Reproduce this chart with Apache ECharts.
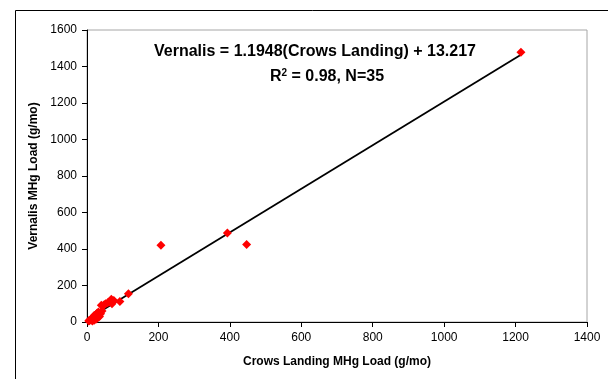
<!DOCTYPE html>
<html>
<head>
<meta charset="utf-8">
<script src="https://cdn.jsdelivr.net/npm/echarts@6/dist/echarts.min.js"></script>
<style>
  html, body { margin: 0; padding: 0; background: #fff; }
  #chart { width: 608px; height: 379px; }
</style>
</head>
<body>
<div id="chart"></div>
<script>
// Monthly methylmercury loads (g/mo): Crows Landing (x) vs Vernalis (y)
const crowsLanding = [1215, 447, 393, 207, 116, 92,
  75, 68, 62, 58, 52, 48, 45, 40, 70, 42,
  32, 28, 25, 22, 20, 18, 15, 12, 10, 8, 6, 5, 30, 35, 28, 20, 15, 38, 25];
const vernalis = [1478, 425, 487, 420, 155, 113,
  118, 125, 110, 105, 100, 95, 88, 92, 100, 60,
  55, 48, 40, 30, 35, 25, 20, 15, 12, 10, 8, 5, 25, 30, 20, 10, 5, 45, 15];

// Linear fit reported for the data set
const slope = 1.1948;
const intercept = 13.217;
const xTicks = { min: 0, max: 1400, interval: 200 };
const yTicks = { min: 0, max: 1600, interval: 200 };

const points = crowsLanding.map((x, i) => [x, vernalis[i]]);
const xMin = Math.min(...crowsLanding);
const xMax = Math.max(...crowsLanding);
const fitLine = [[xMin, slope * xMin + intercept], [xMax, slope * xMax + intercept]];

const font = 'Liberation Sans, Arial, sans-serif';
const plain = v => String(v);
const chart = echarts.init(document.getElementById('chart'), null, { renderer: 'canvas' });

chart.setOption({
  animation: false,
  backgroundColor: '#fff',
  grid: { left: 87, right: 21, top: 30, bottom: 57, show: true, borderColor: '#a6a6a6', borderWidth: 1 },
  xAxis: {
    type: 'value', min: xTicks.min, max: xTicks.max, interval: xTicks.interval,
    name: 'Crows Landing MHg Load (g/mo)', nameLocation: 'middle', nameGap: 34,
    nameTextStyle: { fontFamily: font, fontSize: 12, fontWeight: 'bold', color: '#000' },
    axisLine: { lineStyle: { color: '#000', width: 1 } },
    axisTick: { length: 5, lineStyle: { color: '#000' } },
    axisLabel: { fontFamily: font, fontSize: 12, color: '#000', margin: 10, formatter: plain },
    splitLine: { show: false }
  },
  yAxis: {
    type: 'value', min: yTicks.min, max: yTicks.max, interval: yTicks.interval,
    name: 'Vernalis MHg Load (g/mo)', nameLocation: 'middle', nameGap: 44,
    nameTextStyle: { fontFamily: font, fontSize: 12, fontWeight: 'bold', color: '#000' },
    axisLine: { show: true, lineStyle: { color: '#000', width: 1 } },
    axisTick: { show: true, length: 5, lineStyle: { color: '#000' } },
    axisLabel: { fontFamily: font, fontSize: 12, color: '#000', margin: 10, formatter: plain },
    splitLine: { show: false }
  },
  series: [
    {
      type: 'line', data: fitLine, symbol: 'none', z: 2,
      lineStyle: { color: '#000', width: 1.8 }
    },
    {
      type: 'scatter', data: points, symbol: 'diamond', symbolSize: 9, z: 3,
      itemStyle: { color: '#ff0000', opacity: 1 }
    }
  ],
  graphic: [
    {
      type: 'rect', left: 13, top: 8, silent: true, z: -10,
      shape: { width: 620, height: 400 },
      style: { fill: 'none', stroke: '#000', lineWidth: 1 }
    },
    {
      type: 'text', x: 315, y: 52, z: 10,
      style: {
        text: 'Vernalis = 1.1948(Crows Landing) + 13.217',
        font: 'bold 16px ' + font, fill: '#000', align: 'center', verticalAlign: 'middle'
      }
    },
    {
      type: 'text', x: 327, y: 77, z: 10,
      style: {
        text: 'R{sup|2} = 0.98, N=35',
        font: 'bold 16px ' + font, fill: '#000', align: 'center', verticalAlign: 'middle',
        rich: { sup: { font: 'bold 10px ' + font, fill: '#000', verticalAlign: 'top', padding: [0, 0, 8, 0] } }
      }
    }
  ]
});
</script>
</body>
</html>
